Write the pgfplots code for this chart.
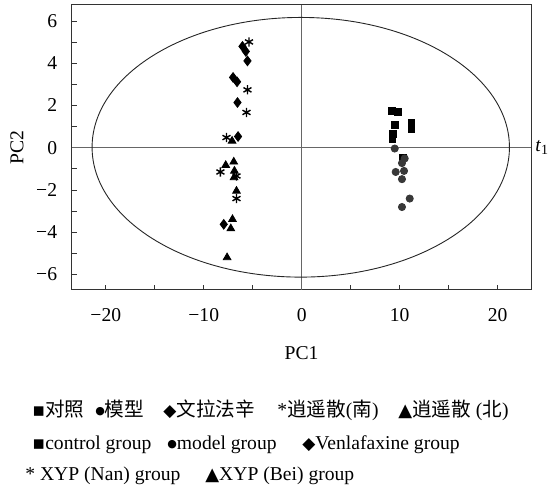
\documentclass[border=0pt]{standalone}
\usepackage{pgfplots}
\pgfplotsset{compat=1.18}
\usepackage{fontspec}
\setmainfont{Liberation Serif}
\newfontfamily\cjk{Noto Sans CJK SC}
\newfontfamily\dv{DejaVu Sans}
\newcommand{\sq}{{\dv\fontsize{9.5}{9}\selectfont ▪}}
\newcommand{\ci}{{\dv\fontsize{5.5}{6}\selectfont\raisebox{0.35ex}{●}}}
\newcommand{\di}{{\dv\fontsize{8.5}{9}\selectfont ◆}}
\newcommand{\tr}{{\dv\fontsize{9}{9}\selectfont ▲}}
\begin{document}
\fontsize{9.8}{11}\selectfont
\begin{tikzpicture}
\begin{axis}[
  name=ax,
  at={(0,0)}, anchor=south west,
  scale only axis,
  width=229.5pt, height=142.5pt,
  xmin=-23.45, xmax=23.4,
  ymin=-6.74, ymax=6.76,
  axis line style={black!80, line width=0.5pt},
  tick style={black!80, line width=0.4pt},
  tick align=inside,
  major tick length=2.5pt, minor tick length=2.5pt,
  xtick={-20,-10,0,10,20},
  xticklabels={−20,−10,0,10,20},
  minor x tick num=1,
  ytick={-6,-4,-2,0,2,4,6},
  yticklabels={−6,−4,−2,0,2,4,6},
  minor y tick num=1,
  xtick pos=bottom, ytick pos=left,
  ticklabel style={font=\fontsize{9.8}{11}\selectfont},
  xticklabel style={yshift=-6pt},
  yticklabel style={xshift=-4pt},
  clip=false,
]
\draw[black!60, line width=0.75pt] (axis cs:-23.45,0) -- (axis cs:23.4,0);
\draw[black!60, line width=0.75pt] (axis cs:0,-6.74) -- (axis cs:0,6.76);
\draw[black!85, line width=0.45pt] (axis cs:-0.1,0.02) ellipse [x radius=21.3, y radius=6.15];

% control group (squares)
\addplot[only marks, mark=square*, mark size=1.7pt, black] coordinates {
(9.18,1.73) (9.80,1.68) (9.49,1.08) (11.19,1.19) (11.19,0.88) (9.32,0.64) (9.26,0.40) (10.34,-0.46)
};
% model group (circles)
\addplot[only marks, mark=*, mark size=1.8pt, black!78, mark options={fill=black!78, draw=black!78}] coordinates {
(9.49,-0.04) (10.51,-0.51) (10.23,-0.73) (9.59,-1.15) (10.44,-1.10) (10.23,-1.49) (11.02,-2.41) (10.23,-2.81)
};
% Venlafaxine (diamonds)
\addplot[only marks, mark=diamond*, mark size=2.4pt, black] coordinates {
(-6.05,4.80) (-5.71,4.56) (-5.54,4.11) (-7.01,3.33) (-6.60,3.12) (-6.56,2.14) (-6.50,0.53) (-7.96,-3.63)
};
% XYP Nan (asterisks)
\addplot[only marks, mark=asterisk, mark size=2.3pt, black, mark options={line width=0.7pt}] coordinates {
(-5.38,5.01) (-5.54,2.74) (-5.64,1.67) (-7.68,0.48) (-8.30,-1.15) (-6.66,-1.34) (-6.66,-2.41)
};
% XYP Bei (triangles)
\addplot[only marks, mark=triangle*, mark size=2.2pt, black] coordinates {
(-7.11,0.32) (-7.76,-0.83) (-6.94,-0.67) (-6.87,-1.10) (-6.91,-1.41) (-6.66,-2.05) (-7.07,-3.39) (-7.24,-3.83) (-7.62,-5.20)
};
\end{axis}
\node[anchor=base] at (114.75pt,-35pt) {PC1};
\node[rotate=90, anchor=center] at (-27.5pt,71.3pt) {PC2};
\node[anchor=west, inner sep=0pt] at (231.5pt,71.3pt) {\textit{t}\raisebox{-0.35ex}{\fontsize{7}{8}\selectfont 1}};

% legend text
\node[anchor=base west, inner sep=0pt] at (-20pt,-63.5pt) {\sq{\cjk 对照}};
\node[anchor=base west, inner sep=0pt] at (11.5pt,-63.5pt) {\ci{\cjk 模型}};
\node[anchor=base west, inner sep=0pt] at (45.5pt,-63.5pt) {\di{\cjk 文拉法辛}};
\node[anchor=base west, inner sep=0pt] at (102.5pt,-63.5pt) {*{\cjk 逍遥散}({\cjk 南})};
\node[anchor=base west, inner sep=0pt] at (163pt,-63.5pt) {\tr{\cjk 逍遥散} ({\cjk 北})};

\node[anchor=base west, inner sep=0pt] at (-20pt,-80pt) {\sq control group};
\node[anchor=base west, inner sep=0pt] at (47.5pt,-80pt) {\ci model group};
\node[anchor=base west, inner sep=0pt] at (115pt,-80pt) {\di Venlafaxine group};

\node[anchor=base west, inner sep=0pt] at (-23.5pt,-95.5pt) {* XYP (Nan) group};
\node[anchor=base west, inner sep=0pt] at (66.5pt,-95.5pt) {\tr XYP (Bei) group};

\pgfresetboundingbox
\path (-36pt,-100pt) rectangle (238pt,145pt);
\end{tikzpicture}
\end{document}
